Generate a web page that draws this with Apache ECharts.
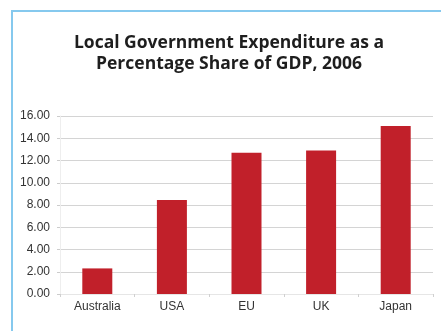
<!DOCTYPE html>
<html>
<head>
<meta charset="utf-8">
<script src="https://cdn.jsdelivr.net/npm/echarts@6/dist/echarts.min.js"></script>
<style>
  html, body { margin: 0; padding: 0; background: #ffffff; }
  #chart { width: 441px; height: 331px; }
</style>
</head>
<body>
<div id="chart"></div>
<script>
// Local government expenditure, % share of GDP, 2006
const categories = ['Australia', 'USA', 'EU', 'UK', 'Japan'];
const expenditureShare = [2.3, 8.45, 12.7, 12.9, 15.1];
const yTicks = { min: 0, max: 16, interval: 2 };

const chart = echarts.init(document.getElementById('chart'), null, { renderer: 'canvas' });

chart.setOption({
  animation: false,
  title: {
    text: 'Local Government Expenditure as a\nPercentage Share of GDP, 2006',
    left: 224,
    top: 28,
    textAlign: 'center',
    textStyle: {
      fontFamily: 'Open Sans',
      fontWeight: 'bold',
      fontSize: 17.5,
      lineHeight: 21,
      color: '#1e1e1e'
    }
  },
  graphic: [
    // light blue frame along the top and left edges
    { type: 'rect', shape: { x: 11, y: 10, width: 440, height: 2 }, style: { fill: '#86c9ee' } },
    { type: 'rect', shape: { x: 11, y: 10, width: 2, height: 330 }, style: { fill: '#86c9ee' } }
  ],
  grid: { left: 60, right: 8, top: 116, bottom: 37 },
  xAxis: {
    type: 'category',
    data: categories,
    axisLine: { lineStyle: { color: '#e6e6e6' } },
    axisTick: { show: true, length: 3, lineStyle: { color: '#d0d0d0' } },
    axisLabel: { color: '#333333', fontFamily: 'Liberation Sans', fontSize: 12, margin: 7 }
  },
  yAxis: {
    type: 'value',
    min: yTicks.min,
    max: yTicks.max,
    interval: yTicks.interval,
    axisLine: { show: true, lineStyle: { color: '#eeeeee' } },
    axisTick: { show: true, length: 3, lineStyle: { color: '#cccccc' } },
    splitLine: { lineStyle: { color: '#d4d4d4' } },
    axisLabel: {
      color: '#333333',
      fontFamily: 'Liberation Sans',
      fontSize: 12,
      margin: 10,
      formatter: v => v.toFixed(2)
    }
  },
  series: [{
    type: 'bar',
    data: expenditureShare,
    barWidth: 30,
    itemStyle: { color: '#c1202a' }
  }]
});
</script>
</body>
</html>
